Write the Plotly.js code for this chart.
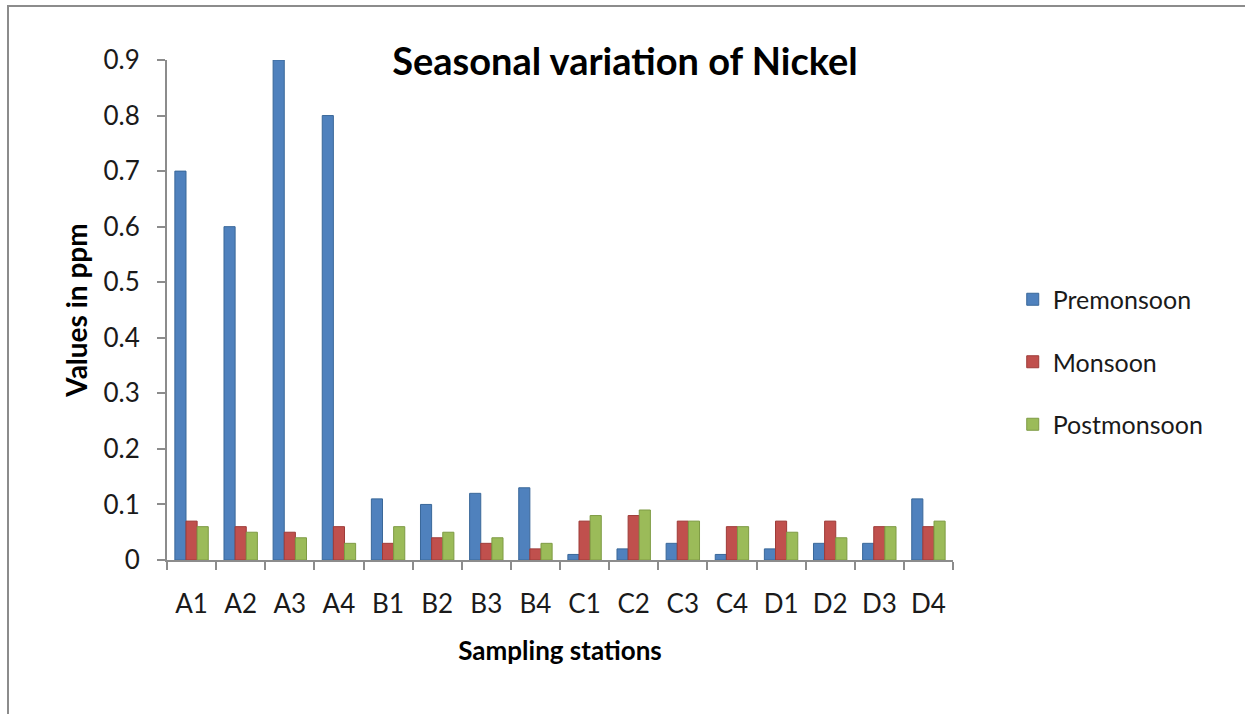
<!DOCTYPE html>
<html>
<head>
<meta charset="utf-8">
<script src="https://cdn.plot.ly/plotly-3.0.1.min.js"></script>
<style>
  html, body { margin: 0; padding: 0; background: #fff; }
  #frame { position: absolute; left: 7px; top: 5px; width: 1300px; height: 760px;
           border-left: 2px solid #8c8c8c; border-top: 2px solid #8c8c8c; }
  #chart { position: absolute; left: 0; top: 0; width: 1245px; height: 714px; }
</style>
</head>
<body>
<div id="frame"></div>
<div id="chart"></div>
<script>
// Sampling stations and nickel concentrations (ppm) per season
const stations = ['A1','A2','A3','A4','B1','B2','B3','B4','C1','C2','C3','C4','D1','D2','D3','D4'];
const premonsoon  = [0.70,0.60,0.90,0.80,0.11,0.10,0.12,0.13,0.01,0.02,0.03,0.01,0.02,0.03,0.03,0.11];
const monsoon     = [0.07,0.06,0.05,0.06,0.03,0.04,0.03,0.02,0.07,0.08,0.07,0.06,0.07,0.07,0.06,0.06];
const postmonsoon = [0.06,0.05,0.04,0.03,0.06,0.05,0.04,0.03,0.08,0.09,0.07,0.06,0.05,0.04,0.06,0.07];

const seriesNames  = ['Premonsoon','Monsoon','Postmonsoon'];
const seriesValues = [premonsoon, monsoon, postmonsoon];
const seriesColors = ['#4F81BD','#C0504D','#9BBB59'];
const seriesEdges  = ['#3A6899','#9E3B38','#7E9B44'];

const FONT = 'Lato, "Open Sans", sans-serif';

const traces = seriesNames.map((name, i) => ({
  type: 'bar',
  name: name,
  x: stations,
  y: seriesValues[i],
  legendgroup: 'g' + i,
  marker: { color: seriesColors[i], line: { color: seriesEdges[i], width: 1 } },
  hoverinfo: 'x+y+name'
}));

const layout = {
  width: 1245,
  height: 714,
  paper_bgcolor: 'rgba(0,0,0,0)',
  plot_bgcolor: 'rgba(0,0,0,0)',
  margin: { l: 167, r: 292, t: 60, b: 154 },
  barmode: 'group',
  bargap: 0.32,
  bargroupgap: 0,
  showlegend: true,
  font: { family: FONT, color: '#1a1a1a', size: 22 },
  title: {
    text: '<b>Seasonal variation of Nickel</b>',
    font: { family: FONT, size: 38, color: '#000' },
    xref: 'container', yref: 'container',
    x: 0.502, y: 1 - 62 / 714,
    xanchor: 'center', yanchor: 'middle'
  },
  xaxis: {
    type: 'category',
    tickson: 'boundaries',
    ticks: 'outside',
    ticklen: 8,
    tickwidth: 2,
    tickcolor: '#8c8c8c',
    showline: true,
    linecolor: '#8c8c8c',
    linewidth: 2,
    showgrid: false,
    tickfont: { family: FONT, size: 26, color: '#1a1a1a' },
    ticklabelstandoff: 20,
    automargin: false,
    title: {
      text: '<b>Sampling stations</b>',
      font: { family: FONT, size: 26, color: '#000' },
      standoff: 24
    }
  },
  yaxis: {
    range: [0, 0.9],
    dtick: 0.1,
    ticks: 'outside',
    ticklen: 8,
    tickwidth: 2,
    tickcolor: '#8c8c8c',
    showline: true,
    linecolor: '#8c8c8c',
    linewidth: 2,
    showgrid: false,
    zeroline: false,
    tickfont: { family: FONT, size: 26, color: '#1a1a1a' },
    ticklabelstandoff: 12,
    automargin: false,
    title: {
      text: '<b>Values in ppm</b>',
      font: { family: FONT, size: 28, color: '#000' },
      standoff: 8
    }
  },
  legend: {
    x: 1.076, xanchor: 'left',
    y: 0.396, yanchor: 'middle',
    font: { family: FONT, size: 25, color: '#1a1a1a' },
    tracegroupgap: 27,
    itemwidth: 30,
    bgcolor: 'rgba(0,0,0,0)'
  }
};

Plotly.newPlot('chart', traces, layout, { displayModeBar: false, staticPlot: true });
</script>
</body>
</html>
